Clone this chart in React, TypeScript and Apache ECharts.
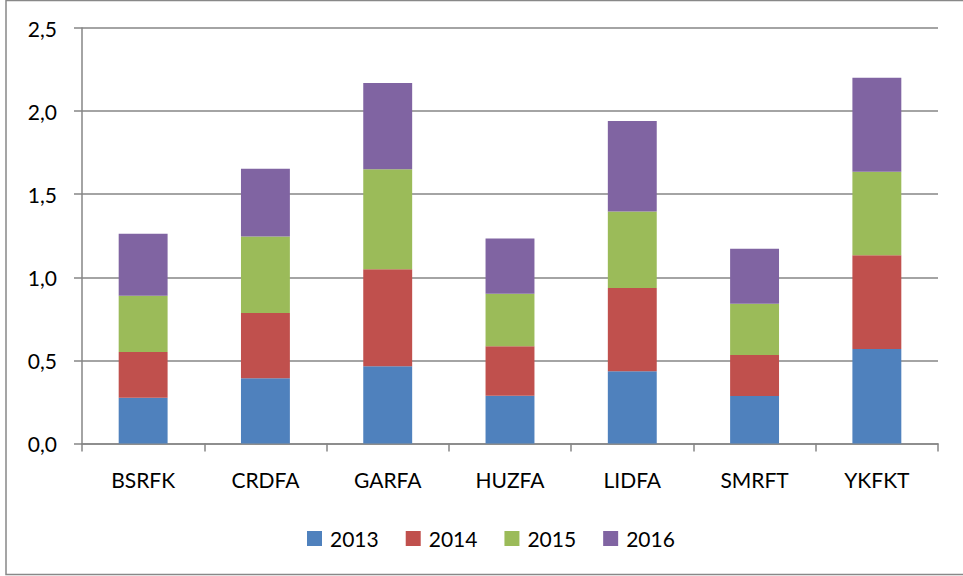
import React, { useEffect, useRef } from "react";
import * as echarts from "echarts";

const categories = ["BSRFK", "CRDFA", "GARFA", "HUZFA", "LIDFA", "SMRFT", "YKFKT"];
const years = ["2013", "2014", "2015", "2016"];
const v2013 = [0.276, 0.392, 0.465, 0.288, 0.434, 0.286, 0.569];
const v2014 = [0.274, 0.393, 0.584, 0.297, 0.501, 0.246, 0.564];
const v2015 = [0.339, 0.461, 0.601, 0.316, 0.461, 0.309, 0.502];
const v2016 = [0.373, 0.407, 0.519, 0.333, 0.545, 0.331, 0.565];
const colors = ["#4F81BD", "#C0504D", "#9BBB59", "#8064A2"];

const FONT = "Lato, 'Open Sans', sans-serif";

export default function App() {
  const ref = useRef<HTMLDivElement>(null);
  useEffect(() => {
    if (!ref.current) return;
    const chart = echarts.init(ref.current, null, { renderer: "svg" });
    const seriesData = [v2013, v2014, v2015, v2016];
    chart.setOption({
      animation: false,
      backgroundColor: "#ffffff",
      color: colors,
      textStyle: { fontFamily: FONT },
      grid: { left: 82, top: 28, width: 856, height: 415.5, containLabel: false },
      legend: {
        left: 302,
        top: 523,
        itemWidth: 15,
        itemHeight: 15,
        itemGap: 27,
        icon: "rect",
        textStyle: { fontSize: 21, color: "#000", fontFamily: FONT, padding: [0, 0, 0, 3] },
        data: years,
      },
      xAxis: {
        type: "category",
        data: categories,
        boundaryGap: true,
        axisLine: { lineStyle: { color: "#868686", width: 1.5 } },
        axisTick: { show: true, length: 8, inside: false, lineStyle: { color: "#868686", width: 1.5 } },
        axisLabel: { color: "#000", fontSize: 21, margin: 25, fontFamily: FONT },
      },
      yAxis: {
        type: "value",
        min: 0,
        max: 2.5,
        interval: 0.5,
        axisLine: { show: true, lineStyle: { color: "#868686", width: 1.5 } },
        axisTick: { show: true, length: 8, lineStyle: { color: "#868686", width: 1.5 } },
        splitLine: { show: true, lineStyle: { color: "#868686", width: 1.5 } },
        axisLabel: {
          color: "#000",
          fontSize: 21,
          margin: 25,
          fontFamily: FONT,
          formatter: (v: number) => v.toFixed(1).replace(".", ","),
        },
      },
      series: years.map((y, i) => ({
        name: y,
        type: "bar",
        stack: "total",
        data: seriesData[i],
        barWidth: "40%",
        itemStyle: { color: colors[i] },
      })),
      graphic: [
        {
          type: "rect",
          shape: { x: 6, y: 0.5, width: 990, height: 574 },
          style: { fill: "none", stroke: "#888888", lineWidth: 1.5 },
          silent: true,
        },
      ],
    });
    return () => chart.dispose();
  }, []);
  return <div ref={ref} style={{ width: 963, height: 576, position: "absolute", left: 0, top: 0 }} />;
}
